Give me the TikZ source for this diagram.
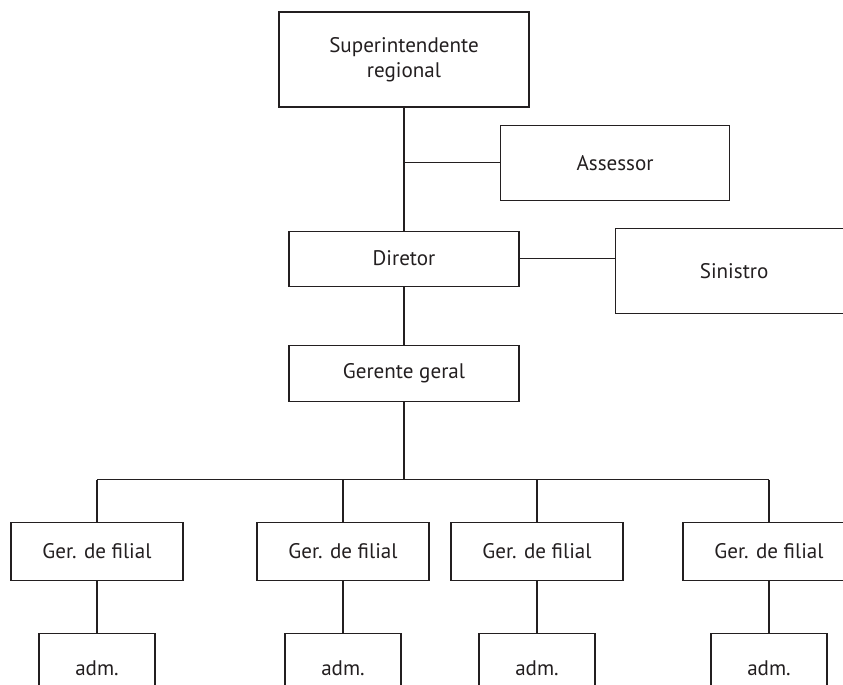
\documentclass[tikz,border=0pt]{standalone}
\usepackage{fontspec}
\setmainfont{PT Sans}
\usetikzlibrary{
    positioning,                      % below=of, right=of
    calc                              % ($(a)!0.5!(b)$)
}
\tikzset{
    cargo/.style={
        rectangle, draw=traco, line width=0.8pt,
        align=center, text=traco,
        font=\fontsize{15}{17.5}\selectfont,
        inner sep=3pt
    },
    linha/.style={
        draw=traco, line width=0.8pt
    }
}
\definecolor{traco}{RGB}{35,31,32}

\begin{document}
\begin{tikzpicture}[node distance=5mm and 10mm]

    % --- Area visivel ---
    \useasboundingbox (-101mm,14.875mm) rectangle (109.75mm,-156.375mm);
    \clip (-101mm,14.875mm) rectangle (109.75mm,-156.375mm);

    % --- Topo ---
    \node[cargo, minimum width=62.5mm, minimum height=23.75mm] (sup) {Superintendente\\regional};
    \node[cargo, minimum width=57.5mm, minimum height=13.75mm, below=30.75mm of sup] (dir) {Diretor};
    \coordinate (tee) at ($(sup.south)!0.45!(dir.north)$);
    \node[cargo, minimum width=57.25mm, minimum height=18.75mm, right=24mm of tee] (asse) {Assessor};
    \node[cargo, minimum width=59.5mm, minimum height=21.25mm,
          right=23.75mm of dir, yshift=-3mm] (sin) {Sinistro};
    \node[cargo, minimum width=57.5mm, minimum height=14mm, below=14.5mm of dir] (ger) {Gerente geral};

    % --- Filiais ---
    \coordinate[below=19.5mm of ger] (bus);
    \foreach \i/\dx in {1/-76.75mm, 2/-15.25mm, 3/33.25mm, 4/91.25mm} {
        \node[cargo, minimum width=43mm, minimum height=14.5mm,
              below=10.5mm of bus, xshift=\dx] (fil\i) {Ger. de filial};
        \node[cargo, minimum width=29mm, minimum height=17.5mm, below=13mm of fil\i] (adm\i) {adm.};
    }

    % --- Ligacoes ---
    \draw[linha] (sup) -- (dir);
    \draw[linha] (tee) -- (asse.west);
    \draw[linha] (dir.east) -- (dir.east -| sin.west);
    \draw[linha] (dir) -- (ger);
    \draw[linha] (ger) -- (bus);
    \draw[linha] (fil1.north |- bus) -- (fil4.north |- bus);
    \foreach \i in {1,...,4} {
        \draw[linha] (fil\i.north |- bus) -- (fil\i.north);
        \draw[linha] (fil\i) -- (adm\i);
    }

\end{tikzpicture}
\end{document}
